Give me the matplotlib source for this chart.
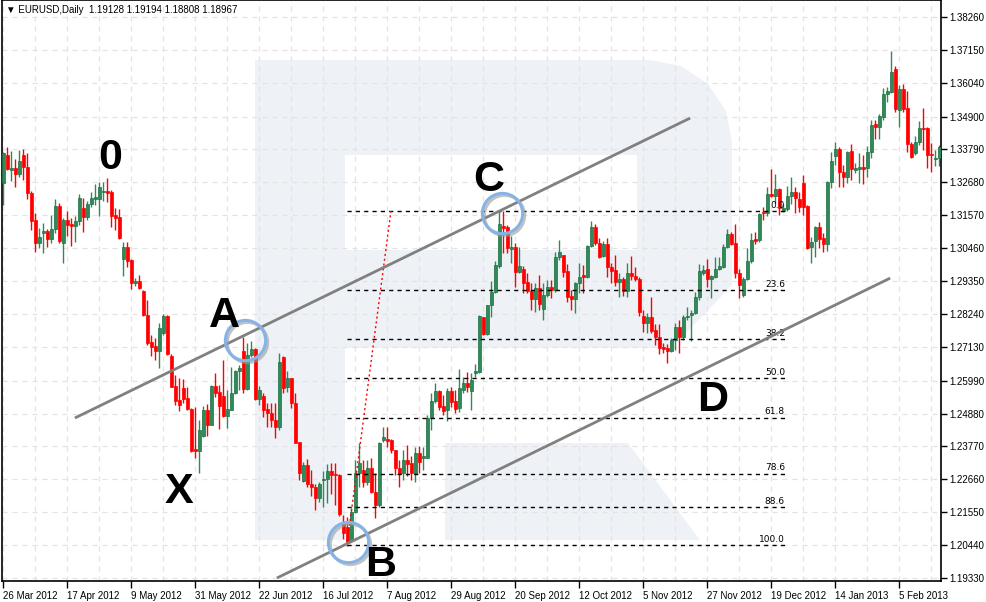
import matplotlib
matplotlib.use("Agg")
import matplotlib.pyplot as plt
from matplotlib.patches import Polygon
from matplotlib import transforms

# daily EURUSD candles, 26 Mar 2012 .. mid Feb 2013
opens = [1.3267, 1.3360, 1.3310, 1.3317, 1.3297, 1.3360, 1.3319, 1.3231, 1.3141, 1.3065,
         1.3098, 1.3104, 1.3078, 1.3110, 1.3188, 1.3065, 1.3141, 1.3128, 1.3121, 1.3136,
         1.3182, 1.3151, 1.3195, 1.3213, 1.3213, 1.3234, 1.3239, 1.3236, 1.3158, 1.3150,
         1.3011, 1.3051, 1.3006, 1.2927, 1.2934, 1.2901, 1.2820, 1.2729, 1.2716, 1.2698,
         1.2761, 1.2817, 1.2682, 1.2581, 1.2534, 1.2574, 1.2540, 1.2504, 1.2367, 1.2362,
         1.2412, 1.2500, 1.2450, 1.2581, 1.2560, 1.2547, 1.2480, 1.2500, 1.2556, 1.2633,
         1.2699, 1.2570, 1.2685, 1.2706, 1.2536, 1.2547, 1.2504, 1.2491, 1.2466, 1.2441,
         1.2680, 1.2576, 1.2607, 1.2525, 1.2392, 1.2260, 1.2314, 1.2250, 1.2239, 1.2202,
         1.2264, 1.2268, 1.2293, 1.2284, 1.2281, 1.2117, 1.2106, 1.2061, 1.2157, 1.2286,
         1.2297, 1.2258, 1.2303, 1.2224, 1.2179, 1.2399, 1.2401, 1.2399, 1.2365, 1.2303,
         1.2286, 1.2331, 1.2320, 1.2286, 1.2354, 1.2337, 1.2337, 1.2472, 1.2531, 1.2565,
         1.2513, 1.2500, 1.2565, 1.2531, 1.2506, 1.2568, 1.2592, 1.2565, 1.2626, 1.2629,
         1.2813, 1.2756, 1.2853, 1.2898, 1.2986, 1.3121, 1.3117, 1.3044, 1.3051, 1.2967,
         1.2975, 1.2932, 1.2900, 1.2873, 1.2910, 1.2842, 1.2887, 1.2916, 1.2905, 1.3015,
         1.3022, 1.2970, 1.2885, 1.2873, 1.2927, 1.2955, 1.2948, 1.3053, 1.3119, 1.3062,
         1.3020, 1.3059, 1.2984, 1.2972, 1.2933, 1.2941, 1.2903, 1.2961, 1.2952, 1.2941,
         1.2817, 1.2795, 1.2815, 1.2770, 1.2745, 1.2714, 1.2708, 1.2700, 1.2736, 1.2781,
         1.2747, 1.2815, 1.2820, 1.2826, 1.2880, 1.2963, 1.2975, 1.2941, 1.2950, 1.2975,
         1.2981, 1.3051, 1.3093, 1.3062, 1.2963, 1.2888, 1.2941, 1.3004, 1.3076, 1.3074,
         1.3169, 1.3164, 1.3229, 1.3222, 1.3244, 1.3172, 1.3177, 1.3222, 1.3236, 1.3211,
         1.3265, 1.3189, 1.3049, 1.3071, 1.3116, 1.3079, 1.3060, 1.3270, 1.3357, 1.3379,
         1.3303, 1.3287, 1.3374, 1.3310, 1.3312, 1.3320, 1.3315, 1.3372, 1.3465, 1.3454,
         1.3490, 1.3566, 1.3574, 1.3649, 1.3512, 1.3582, 1.3518, 1.3397, 1.3366, 1.3405,
         1.3452, 1.3450, 1.3364, 1.3346, 1.3349]
highs = [1.3370, 1.3386, 1.3374, 1.3347, 1.3377, 1.3380, 1.3366, 1.3239, 1.3164, 1.3113,
         1.3132, 1.3110, 1.3158, 1.3211, 1.3200, 1.3147, 1.3171, 1.3147, 1.3155, 1.3229,
         1.3214, 1.3205, 1.3237, 1.3262, 1.3268, 1.3268, 1.3282, 1.3242, 1.3180, 1.3178,
         1.3067, 1.3067, 1.3008, 1.2944, 1.2954, 1.2905, 1.2871, 1.2753, 1.2742, 1.2792,
         1.2824, 1.2820, 1.2689, 1.2618, 1.2607, 1.2603, 1.2576, 1.2505, 1.2511, 1.2466,
         1.2513, 1.2520, 1.2585, 1.2624, 1.2584, 1.2669, 1.2567, 1.2646, 1.2635, 1.2651,
         1.2747, 1.2727, 1.2733, 1.2708, 1.2581, 1.2556, 1.2522, 1.2522, 1.2525, 1.2693,
         1.2682, 1.2633, 1.2607, 1.2558, 1.2393, 1.2326, 1.2333, 1.2297, 1.2250, 1.2258,
         1.2295, 1.2318, 1.2322, 1.2322, 1.2284, 1.2146, 1.2140, 1.2168, 1.2331, 1.2387,
         1.2331, 1.2331, 1.2337, 1.2286, 1.2393, 1.2441, 1.2441, 1.2401, 1.2365, 1.2331,
         1.2365, 1.2382, 1.2345, 1.2376, 1.2378, 1.2376, 1.2483, 1.2556, 1.2592, 1.2568,
         1.2551, 1.2573, 1.2576, 1.2568, 1.2637, 1.2612, 1.2629, 1.2626, 1.2654, 1.2820,
         1.2815, 1.2855, 1.2935, 1.3004, 1.3173, 1.3173, 1.3124, 1.3087, 1.3062, 1.3049,
         1.2986, 1.2961, 1.2927, 1.2927, 1.2955, 1.2927, 1.2939, 1.2939, 1.3034, 1.3073,
         1.3024, 1.2993, 1.2905, 1.2933, 1.2995, 1.2989, 1.3057, 1.3139, 1.3128, 1.3079,
         1.3071, 1.3079, 1.2995, 1.3023, 1.2961, 1.2950, 1.2995, 1.3020, 1.2984, 1.2950,
         1.2837, 1.2828, 1.2882, 1.2790, 1.2790, 1.2725, 1.2721, 1.2742, 1.2792, 1.2804,
         1.2820, 1.2846, 1.2837, 1.2899, 1.2991, 1.2989, 1.3008, 1.2955, 1.3017, 1.3017,
         1.3060, 1.3110, 1.3102, 1.3128, 1.2975, 1.2948, 1.3045, 1.3098, 1.3102, 1.3166,
         1.3186, 1.3254, 1.3312, 1.3296, 1.3248, 1.3195, 1.3256, 1.3287, 1.3254, 1.3237,
         1.3293, 1.3192, 1.3085, 1.3121, 1.3135, 1.3096, 1.3274, 1.3372, 1.3405, 1.3388,
         1.3327, 1.3375, 1.3397, 1.3332, 1.3368, 1.3360, 1.3391, 1.3478, 1.3478, 1.3499,
         1.3585, 1.3591, 1.3711, 1.3661, 1.3597, 1.3600, 1.3577, 1.3405, 1.3424, 1.3476,
         1.3518, 1.3454, 1.3400, 1.3377, 1.3394]
lows = [1.3192, 1.3310, 1.3274, 1.3251, 1.3287, 1.3276, 1.3213, 1.3107, 1.3034, 1.3045,
        1.3031, 1.3051, 1.3062, 1.3096, 1.3065, 1.2995, 1.3087, 1.3053, 1.3068, 1.3124,
        1.3102, 1.3141, 1.3186, 1.3192, 1.3156, 1.3205, 1.3203, 1.3119, 1.3107, 1.3076,
        1.2953, 1.2983, 1.2909, 1.2918, 1.2907, 1.2818, 1.2719, 1.2683, 1.2669, 1.2640,
        1.2753, 1.2687, 1.2576, 1.2516, 1.2497, 1.2525, 1.2500, 1.2358, 1.2337, 1.2286,
        1.2410, 1.2412, 1.2449, 1.2543, 1.2435, 1.2475, 1.2440, 1.2499, 1.2553, 1.2568,
        1.2556, 1.2568, 1.2680, 1.2534, 1.2517, 1.2475, 1.2441, 1.2441, 1.2407, 1.2432,
        1.2558, 1.2562, 1.2508, 1.2387, 1.2264, 1.2258, 1.2241, 1.2210, 1.2162, 1.2191,
        1.2171, 1.2187, 1.2215, 1.2179, 1.2142, 1.2063, 1.2041, 1.2056, 1.2153, 1.2241,
        1.2241, 1.2247, 1.2219, 1.2134, 1.2174, 1.2393, 1.2376, 1.2354, 1.2281, 1.2241,
        1.2264, 1.2277, 1.2264, 1.2256, 1.2288, 1.2297, 1.2337, 1.2432, 1.2522, 1.2500,
        1.2483, 1.2464, 1.2511, 1.2489, 1.2494, 1.2556, 1.2562, 1.2500, 1.2612, 1.2626,
        1.2753, 1.2753, 1.2815, 1.2894, 1.2978, 1.3029, 1.3029, 1.2995, 1.2916, 1.2963,
        1.2894, 1.2894, 1.2837, 1.2832, 1.2837, 1.2804, 1.2882, 1.2877, 1.2899, 1.3006,
        1.2950, 1.2865, 1.2837, 1.2826, 1.2894, 1.2894, 1.2944, 1.3051, 1.3057, 1.3012,
        1.3015, 1.2950, 1.2927, 1.2918, 1.2882, 1.2885, 1.2882, 1.2939, 1.2936, 1.2817,
        1.2764, 1.2759, 1.2759, 1.2719, 1.2689, 1.2691, 1.2660, 1.2697, 1.2702, 1.2691,
        1.2736, 1.2804, 1.2734, 1.2824, 1.2871, 1.2955, 1.2916, 1.2877, 1.2944, 1.2972,
        1.2978, 1.3045, 1.3057, 1.2947, 1.2877, 1.2882, 1.2939, 1.2997, 1.3060, 1.3068,
        1.3141, 1.3155, 1.3220, 1.3197, 1.3158, 1.3169, 1.3172, 1.3195, 1.3166, 1.3169,
        1.3158, 1.3042, 1.2997, 1.3017, 1.3045, 1.3034, 1.3038, 1.3248, 1.3327, 1.3254,
        1.3254, 1.3267, 1.3276, 1.3298, 1.3265, 1.3263, 1.3285, 1.3349, 1.3413, 1.3413,
        1.3478, 1.3540, 1.3568, 1.3507, 1.3456, 1.3507, 1.3372, 1.3349, 1.3360, 1.3394,
        1.3377, 1.3315, 1.3304, 1.3323, 1.3323]
closes = [1.3366, 1.3313, 1.3317, 1.3297, 1.3340, 1.3319, 1.3231, 1.3139, 1.3065, 1.3083,
          1.3104, 1.3078, 1.3110, 1.3188, 1.3070, 1.3141, 1.3124, 1.3121, 1.3137, 1.3214,
          1.3151, 1.3195, 1.3215, 1.3219, 1.3252, 1.3239, 1.3233, 1.3155, 1.3149, 1.3079,
          1.3051, 1.3004, 1.2927, 1.2934, 1.2913, 1.2820, 1.2727, 1.2714, 1.2698, 1.2777,
          1.2817, 1.2689, 1.2579, 1.2531, 1.2516, 1.2538, 1.2502, 1.2362, 1.2362, 1.2432,
          1.2500, 1.2450, 1.2581, 1.2557, 1.2513, 1.2480, 1.2504, 1.2556, 1.2633, 1.2640,
          1.2570, 1.2685, 1.2705, 1.2536, 1.2568, 1.2500, 1.2489, 1.2466, 1.2441, 1.2661,
          1.2573, 1.2607, 1.2522, 1.2390, 1.2286, 1.2314, 1.2250, 1.2239, 1.2202, 1.2249,
          1.2267, 1.2293, 1.2282, 1.2279, 1.2149, 1.2084, 1.2056, 1.2157, 1.2286, 1.2320,
          1.2258, 1.2303, 1.2224, 1.2179, 1.2387, 1.2410, 1.2396, 1.2365, 1.2303, 1.2284,
          1.2331, 1.2318, 1.2286, 1.2354, 1.2326, 1.2345, 1.2472, 1.2531, 1.2565, 1.2511,
          1.2497, 1.2565, 1.2528, 1.2502, 1.2573, 1.2590, 1.2576, 1.2601, 1.2633, 1.2817,
          1.2756, 1.2853, 1.2898, 1.2989, 1.3128, 1.3115, 1.3045, 1.3049, 1.2967, 1.2986,
          1.2930, 1.2900, 1.2873, 1.2910, 1.2856, 1.2887, 1.2916, 1.2905, 1.3015, 1.3033,
          1.2967, 1.2882, 1.2873, 1.2927, 1.2950, 1.2948, 1.3053, 1.3119, 1.3062, 1.3017,
          1.3059, 1.2984, 1.2970, 1.2933, 1.2942, 1.2903, 1.2961, 1.2952, 1.2941, 1.2832,
          1.2795, 1.2815, 1.2768, 1.2745, 1.2708, 1.2705, 1.2700, 1.2736, 1.2781, 1.2747,
          1.2815, 1.2818, 1.2826, 1.2880, 1.2970, 1.2972, 1.2941, 1.2952, 1.2975, 1.2986,
          1.3051, 1.3093, 1.3060, 1.2963, 1.2922, 1.2941, 1.3004, 1.3074, 1.3071, 1.3161,
          1.3164, 1.3229, 1.3222, 1.3244, 1.3180, 1.3180, 1.3222, 1.3236, 1.3214, 1.3184,
          1.3186, 1.3045, 1.3068, 1.3116, 1.3076, 1.3060, 1.3270, 1.3341, 1.3379, 1.3304,
          1.3287, 1.3372, 1.3314, 1.3315, 1.3321, 1.3314, 1.3372, 1.3462, 1.3454, 1.3492,
          1.3566, 1.3577, 1.3640, 1.3514, 1.3582, 1.3514, 1.3397, 1.3352, 1.3405, 1.3450,
          1.3448, 1.3360, 1.3360, 1.3349, 1.3386]

date_labels = ["26 Mar 2012", "17 Apr 2012", "9 May 2012", "31 May 2012", "22 Jun 2012",
               "16 Jul 2012", "7 Aug 2012", "29 Aug 2012", "20 Sep 2012", "12 Oct 2012",
               "5 Nov 2012", "27 Nov 2012", "19 Dec 2012", "14 Jan 2013", "5 Feb 2013"]
price_ticks = [1.38260, 1.37150, 1.36040, 1.34900, 1.33790, 1.32680, 1.31570, 1.30460, 1.29350,
               1.28240, 1.27130, 1.25990, 1.24880, 1.23770, 1.22660, 1.21550, 1.20440, 1.19330]

# fibonacci retracement between B low and C high
fib_high = 1.3171
fib_low = 1.2044
fib_levels = [0.0, 23.6, 38.2, 50.0, 61.8, 78.6, 88.6, 100.0]
fib_x = (85.9, 195.4)

# channel lines (bar index, price)
upper_ch = ([17.9, 171.7], [1.2473, 1.3485])
lower_ch = ([68.4, 221.7], [1.1933, 1.2945])
red_line = ([85.9, 96.9], [1.2044, 1.3171])

# pattern points
labels = [("0", 26.7, 1.3350), ("A", 55.2, 1.2817), ("X", 43.9, 1.2223),
          ("B", 94.4, 1.1977), ("C", 121.4, 1.3276), ("D", 177.2, 1.2534)]
circles = [(60.4, 1.2736), (124.7, 1.3165), (86.2, 1.2054)]

W, H = 987, 602
fig = plt.figure(figsize=(W / 100, H / 100), dpi=100)
ax = fig.add_axes([2 / W, 21 / H, 939 / W, 581 / H])
ax.set_xlim(-0.325, 234.4)
ax.set_ylim(1.19229, 1.38834)

# watermark "R" (pixel coords of the picture -> axes fraction)
def px(pts):
    return [((x - 2) / 939, (581 - y) / 581) for x, y in pts]

wm = "#eef2f7"
ax.add_patch(Polygon(px([(255, 60), (345, 60), (345, 540), (255, 540)]),
                     transform=ax.transAxes, color=wm, lw=0, zorder=0.1))
ax.add_patch(Polygon(px([(345, 60), (650, 60), (681, 66), (708, 84), (726, 111), (732, 142),
                         (732, 285), (672, 348), (345, 348)]),
                     transform=ax.transAxes, color=wm, lw=0, zorder=0.1))
ax.add_patch(Polygon(px([(345, 155), (637, 155), (637, 250), (345, 250)]),
                     transform=ax.transAxes, color="white", lw=0, zorder=0.2))
ax.add_patch(Polygon(px([(445, 443), (628, 443), (700, 540), (445, 540)]),
                     transform=ax.transAxes, color=wm, lw=0, zorder=0.1))

# grid
ax.set_axisbelow(True)
ax.set_xticks(range(0, 235, 16))
ax.set_xticks(range(8, 235, 16), minor=True)
ax.grid(True, which="both", axis="x", color="#e3e3e3", ls=(0, (4, 4)), lw=0.9)
ax.grid(True, which="major", axis="y", color="#e3e3e3", ls=(0, (4, 4)), lw=0.9)

# candles
up_c, up_e, dn_c = "#2e8b57", "#1f6e44", "#ff0000"
xs = list(range(len(closes)))
cols = [up_c if c >= o else dn_c for o, c in zip(opens, closes)]
ax.vlines(xs, lows, highs, colors=cols, lw=1, zorder=2)
bottoms = [min(o, c) for o, c in zip(opens, closes)]
heights = [max(abs(c - o), 0.00012) for o, c in zip(opens, closes)]
ax.bar(xs, heights, bottom=bottoms, width=0.78, color=cols,
       edgecolor=[up_e if c == up_c else dn_c for c in cols], lw=0.5, zorder=3)

# fibonacci levels
rng = fib_high - fib_low
for lv in fib_levels:
    p = fib_high - lv / 100 * rng
    ax.plot(fib_x, [p, p], color="black", lw=1, ls=(0, (3, 3)), zorder=4)
    ax.text(fib_x[1], p + 0.0004, f"{lv:.1f}", fontsize=6.5, ha="right", va="bottom",
            family="DejaVu Sans", zorder=5)

ax.plot(*red_line, color="red", lw=1, ls=(0, (1.5, 2)), zorder=4)
ax.plot(*upper_ch, color="#808080", lw=2, zorder=5, solid_capstyle="butt")
ax.plot(*lower_ch, color="#808080", lw=2, zorder=5, solid_capstyle="butt")

# circles with a soft shadow
shadow = transforms.offset_copy(ax.transData, fig=fig, x=1.2, y=-1.5, units="points")
for cx, cy in circles:
    ax.plot(cx, cy, "o", ms=29, mfc="none", mec="#9a9a9a", mew=2.2, alpha=0.6,
            transform=shadow, zorder=6)
    ax.plot(cx, cy, "o", ms=29, mfc="none", mec="#86b3e6", mew=2.2, zorder=7)

for t, x, y in labels:
    ax.text(x, y, t, fontsize=31, fontweight="bold", family="Liberation Sans",
            ha="center", va="center", zorder=8)

ax.text(0.004, 0.983, "\u25bc EURUSD,Daily  1.19128 1.19194 1.18808 1.18967",
        transform=ax.transAxes, fontsize=7, va="center", ha="left",
        family=["Liberation Sans", "DejaVu Sans"], zorder=9)

# axes
ax.set_xticklabels(date_labels, ha="left", fontsize=7, family="Liberation Sans")
ax.tick_params(axis="x", which="major", length=5, width=1, pad=2)
ax.tick_params(axis="x", which="minor", length=0)
ax.yaxis.tick_right()
ax.set_yticks(price_ticks)
ax.set_yticklabels([f"{v:.5f}" for v in price_ticks], fontsize=7, family="Liberation Sans")
ax.tick_params(axis="y", length=4, width=1, pad=2)
for s in ax.spines.values():
    s.set_color("black")
    s.set_linewidth(1.2)

fig.savefig("out.png", dpi=100)
